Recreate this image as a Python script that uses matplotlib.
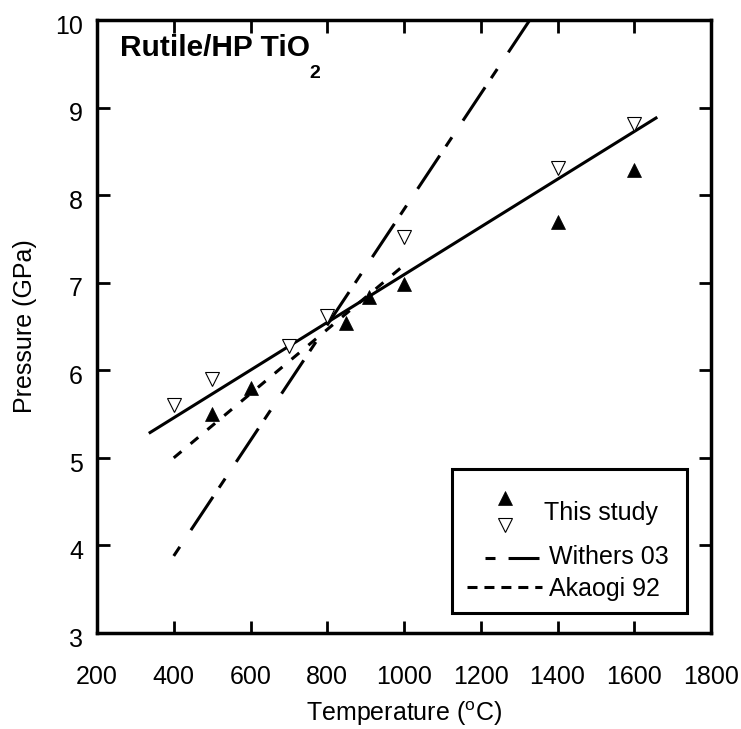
import matplotlib
matplotlib.use("Agg")
import matplotlib.pyplot as plt
import matplotlib.transforms as mtransforms
from matplotlib.lines import Line2D
from matplotlib.patches import Rectangle

plt.rcParams['font.family'] = ['Liberation Sans', 'DejaVu Sans']
plt.rcParams['mathtext.fontset'] = 'custom'
plt.rcParams['mathtext.rm'] = 'Liberation Sans'
plt.rcParams['mathtext.bf'] = 'Liberation Sans:bold'
plt.rcParams['lines.scale_dashes'] = False

# ---- data ----
filled_T = [500, 600, 850, 910, 1000, 1400, 1600]
filled_P = [5.50, 5.80, 6.54, 6.84, 6.99, 7.69, 8.29]

open_T = [400, 500, 700, 800, 1000, 1400, 1600]
open_P = [5.60, 5.90, 6.28, 6.62, 7.52, 8.31, 8.81]

fit_T = [335, 1660]
fit_P = [5.28, 8.89]

withers_T = [400, 1340]
withers_P = [3.88, 10.08]

akaogi_T = [400, 1000]
akaogi_P = [5.00, 7.20]

xticks = [200, 400, 600, 800, 1000, 1200, 1400, 1600, 1800]
yticks = [3, 4, 5, 6, 7, 8, 9, 10]

FS = 18

fig = plt.figure(figsize=(7.41, 7.29), dpi=100)
ax = fig.add_axes([97/741, 1-633/729, (711-97)/741, (633-20)/729])

ax.plot(fit_T, fit_P, color='black', lw=2.2, solid_capstyle='butt')
ax.plot(withers_T, withers_P, color='black', lw=2.2,
        dashes=(7.9, 14.4, 28.8, 7.9), dash_capstyle='butt')
ax.plot(akaogi_T, akaogi_P, color='black', lw=2.2,
        dashes=(7.2, 8.6), dash_capstyle='butt')

ax.plot(filled_T, filled_P, linestyle='none', marker='^', ms=10,
        mfc='black', mec='black', mew=0.5)
ax.plot(open_T, open_P, linestyle='none', marker='v', ms=10,
        mfc='white', mec='black', mew=0.8)

ax.set_xlim(200, 1800)
ax.set_ylim(3, 10)
ax.set_xticks(xticks)
ax.set_yticks(yticks)
ax.set_xticklabels([str(t) for t in xticks])
ax.set_yticklabels([str(t) for t in yticks])

for s in ax.spines.values():
    s.set_linewidth(2.5)
ax.tick_params(axis='both', direction='in', length=9, width=2,
               top=True, right=True, labelsize=FS)
ax.tick_params(axis='x', pad=23)
ax.tick_params(axis='y', pad=10)

shift = mtransforms.ScaledTranslation(0, -3/72, fig.dpi_scale_trans)
for lab in ax.get_yticklabels():
    lab.set_transform(lab.get_transform() + shift)

ax.set_xlabel(r'Temperature ($^{\rm o}$C)', fontsize=FS)
ax.set_ylabel('Pressure (GPa)', fontsize=FS)
ax.xaxis.set_label_coords(0.5, -0.109)
ax.yaxis.set_label_coords(-0.098, 0.5)

t = ax.text(0.037, 0.954, 'Rutile/HP TiO', transform=ax.transAxes,
            fontsize=21.5, fontweight='bold', ha='left', va='center')
ax.annotate('2', xy=(1, 0), xycoords=t, xytext=(-0.5, -8),
            textcoords='offset points', fontsize=14,
            fontweight='bold', ha='left', va='center')

# ---- legend (drawn in axes coordinates) ----
def axc(px, py):
    return ((px - 97) / 614, (633 - py) / 613)

x0, y0 = axc(452, 613)
x1, y1 = axc(687, 469)
ax.add_patch(Rectangle((x0, y0), x1 - x0, y1 - y0, transform=ax.transAxes,
                       fill=True, facecolor='white', edgecolor='black',
                       lw=2.2, zorder=5))
mx, my = axc(505, 498)
ax.add_line(Line2D([mx], [my], transform=ax.transAxes, marker='^', ms=10,
                   mfc='black', mec='black', mew=0.5, zorder=6))
mx, my = axc(505, 525)
ax.add_line(Line2D([mx], [my], transform=ax.transAxes, marker='v', ms=10,
                   mfc='white', mec='black', mew=0.8, zorder=6))
tx, ty = axc(544, 513)
ax.text(tx, ty, 'This study', transform=ax.transAxes, fontsize=FS,
        ha='left', va='center', zorder=6)

lx0, ly = axc(485, 558)
lx1, _ = axc(539, 558)
ax.add_line(Line2D([lx0, lx1], [ly, ly], transform=ax.transAxes,
                   color='black', lw=2.2, dashes=(7.2, 9.4, 22.3, 30),
                   dash_capstyle='butt', zorder=6))
tx, ty = axc(549, 557)
ax.text(tx, ty, 'Withers 03', transform=ax.transAxes, fontsize=FS,
        ha='left', va='center', zorder=6)

lx0, ly = axc(467, 587)
lx1, _ = axc(542, 587)
ax.add_line(Line2D([lx0, lx1], [ly, ly], transform=ax.transAxes,
                   color='black', lw=2.2, dashes=(7.2, 5.0),
                   dash_capstyle='butt', zorder=6))
tx, ty = axc(549, 589)
ax.text(tx, ty, 'Akaogi 92', transform=ax.transAxes, fontsize=FS,
        ha='left', va='center', zorder=6)

fig.savefig('out.png', dpi=100)
